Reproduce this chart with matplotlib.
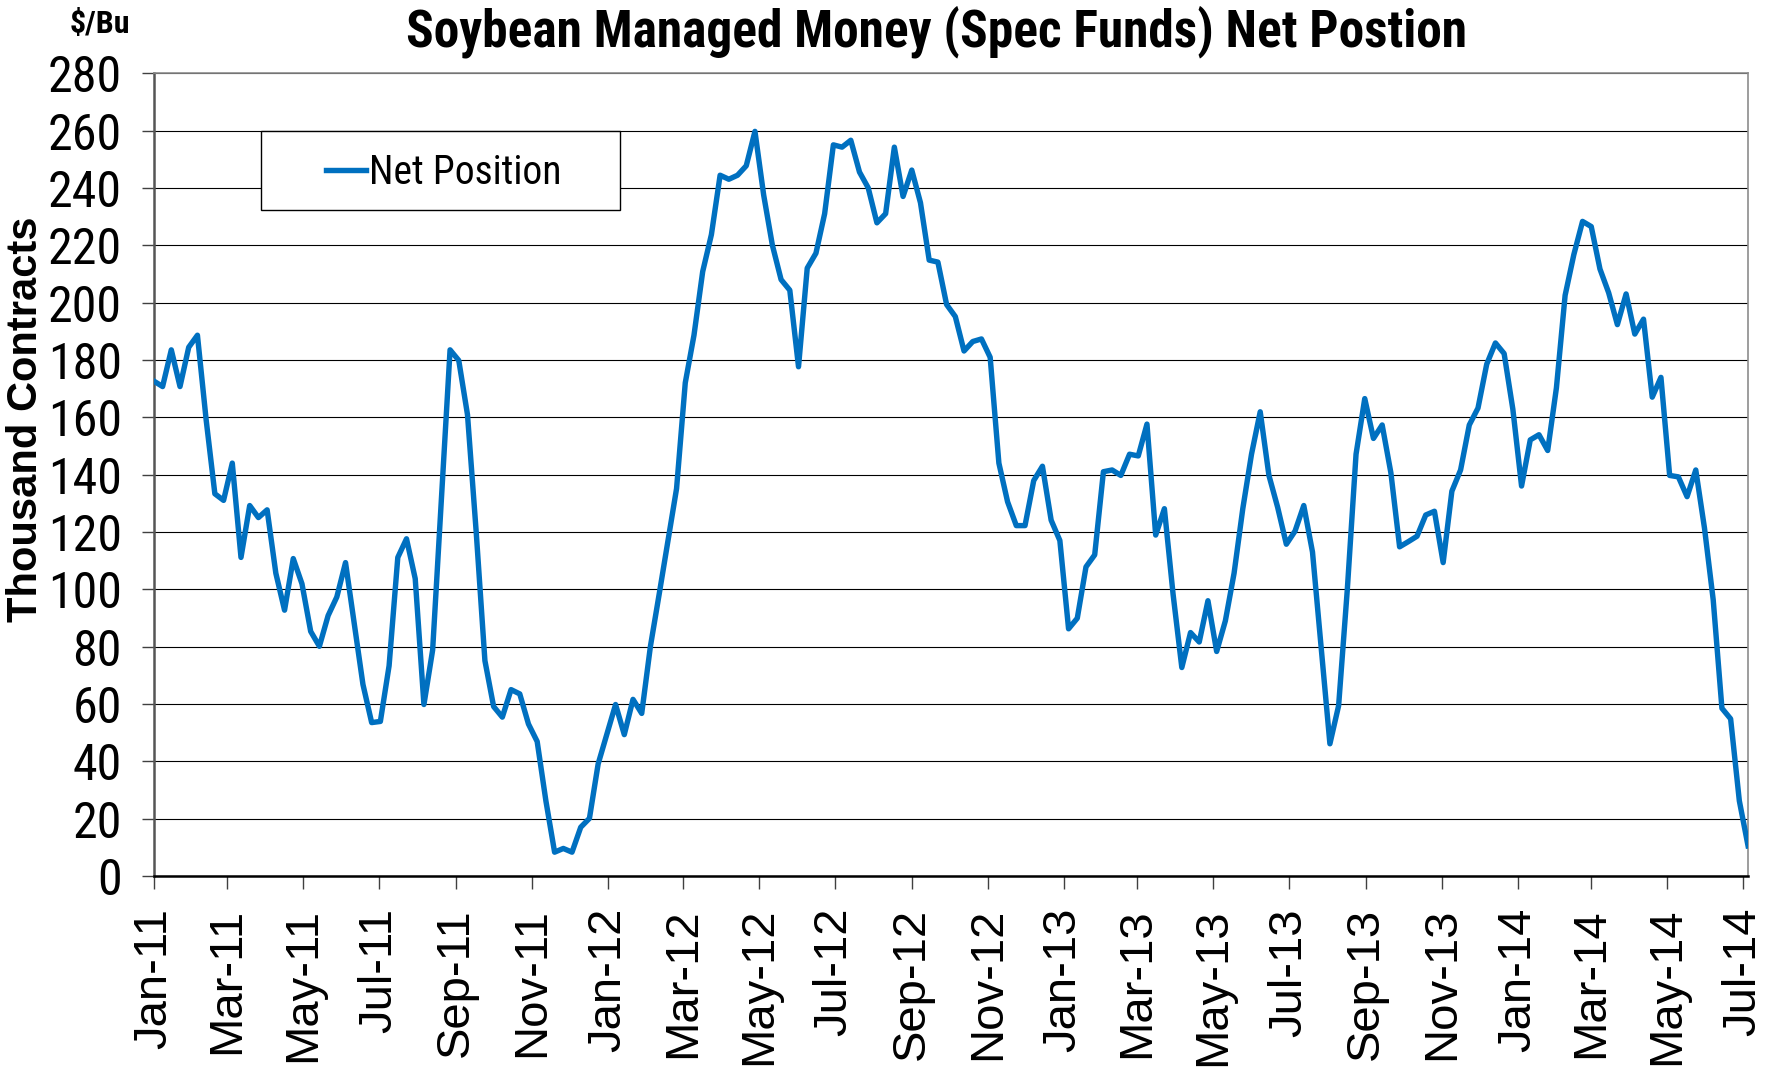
import matplotlib
matplotlib.use("Agg")
import matplotlib.pyplot as plt
from matplotlib.patches import Rectangle
import pandas as pd

# weekly net position, thousand contracts
net_position = [
    172.6, 170.7, 183.5, 170.7, 184.4, 188.6, 159.1, 133.3, 131.0, 144.0,
    111.1, 129.2, 125.0, 127.7, 105.6, 92.7, 110.7, 101.9, 85.3, 80.1,
    90.8, 97.3, 109.3, 88.0, 66.8, 53.5, 53.9, 73.3, 111.1, 117.6,
    103.7, 59.8, 78.8, 131.0, 183.5, 179.8, 160.9, 120.0, 75.1, 59.1,
    55.4, 65.0, 63.5, 53.0, 46.9, 26.2, 8.3, 9.6, 8.3, 17.0,
    20.1, 39.1, 49.5, 59.8, 49.3, 61.6, 56.7, 80.1, 98.2, 116.6,
    135.1, 172.0, 188.6, 210.8, 223.7, 244.4, 243.0, 244.4, 247.7, 259.7,
    237.5, 220.0, 208.0, 204.3, 177.6, 212.0, 217.2, 231.0, 255.0, 254.2,
    256.6, 245.5, 240.0, 227.8, 231.0, 254.2, 237.0, 246.2, 234.8, 214.8,
    214.1, 199.3, 195.1, 183.1, 186.4, 187.3, 180.9, 144.0, 130.5, 122.2,
    122.2, 137.9, 142.9, 124.1, 117.0, 86.2, 89.9, 107.8, 112.0, 141.0,
    141.6, 139.7, 147.1, 146.5, 157.6, 118.9, 128.1, 98.2, 72.7, 84.9,
    81.6, 96.0, 78.3, 89.0, 105.6, 128.1, 147.1, 161.9, 139.7, 128.6,
    115.7, 120.3, 129.2, 113.0, 79.7, 46.1, 59.4, 100.0, 147.1, 166.5,
    152.6, 157.3, 140.6, 114.8, 116.6, 118.5, 125.9, 127.2, 109.3, 134.2,
    141.6, 157.3, 163.2, 178.5, 185.9, 182.2, 162.8, 136.0, 152.1, 153.9,
    148.4, 170.2, 202.5, 216.7, 228.3, 226.5, 211.7, 203.4, 192.3, 203.0,
    189.0, 194.2, 167.0, 173.9, 139.7, 139.2, 132.3, 141.6, 121.3, 96.3,
    58.5, 54.8, 26.2, 10.5,
]
dates = pd.date_range("2011-01-01", periods=len(net_position), freq="7D")
tick_dates = pd.date_range("2011-01-01", "2014-07-01", freq="2MS")
y_ticks = list(range(0, 281, 20))

narrow = ["Roboto Condensed", "Liberation Sans", "DejaVu Sans"]
regular = ["Liberation Sans", "DejaVu Sans"]

fig = plt.figure(figsize=(17.81, 10.76), dpi=100)
ax = fig.add_axes([0.0864, 0.1859, 0.8951, 0.7461])

ax.plot(dates, net_position, color="#0070C0", lw=3.9, label="Net Position",
        solid_joinstyle="round", zorder=4)

ax.set_xlim(dates[0], dates[-1])
ax.set_ylim(0, 280)
ax.set_yticks(y_ticks)
ax.yaxis.grid(True, color="black", lw=0.8)
ax.set_axisbelow(True)

ax.set_xticks(tick_dates)
ax.set_xticklabels([d.strftime("%b-%y") for d in tick_dates], rotation=90,
                   family=regular, fontsize=34)
for lab in ax.get_yticklabels():
    lab.set_family(narrow)
    lab.set_fontsize(36)

ax.tick_params(axis="x", direction="out", length=9, width=1, pad=14, color="#404040")
ax.tick_params(axis="y", direction="out", length=9, width=1, pad=14, color="#404040")

for side in ["top", "right"]:
    ax.spines[side].set_color("#8c8c8c")
    ax.spines[side].set_linewidth(1.2)
ax.spines["left"].set_color("#555555")
ax.spines["left"].set_linewidth(1.8)
ax.spines["bottom"].set_color("black")
ax.spines["bottom"].set_linewidth(1.8)

ax.set_ylabel("Thousand Contracts", family=regular, fontsize=30, fontweight="bold")
ax.yaxis.set_label_coords(-0.0677, 0.569)

fig.text(0.526, 0.971, "Soybean Managed Money (Spec Funds) Net Postion",
         ha="center", va="center", family=narrow, fontsize=37, fontweight="bold")
fig.text(0.056, 0.978, "$/Bu", ha="center", va="center", family=narrow,
         fontsize=23, fontweight="bold")

# legend box
box = Rectangle((261 / 1781, 1 - 210 / 1076), 359 / 1781, 79 / 1076,
                transform=fig.transFigure, facecolor="white", edgecolor="black",
                lw=1.0, zorder=3)
ax.add_patch(box)
box.set_clip_on(False)
leg = ax.legend(loc="center left", bbox_to_anchor=(326 / 1781, 1 - 172 / 1076),
                bbox_transform=fig.transFigure, frameon=False, borderpad=0,
                borderaxespad=0, handlelength=1.0, handletextpad=0.08,
                prop={"family": narrow, "size": 28.5})
leg.set_zorder(5)

fig.savefig("out.png", dpi=100)
